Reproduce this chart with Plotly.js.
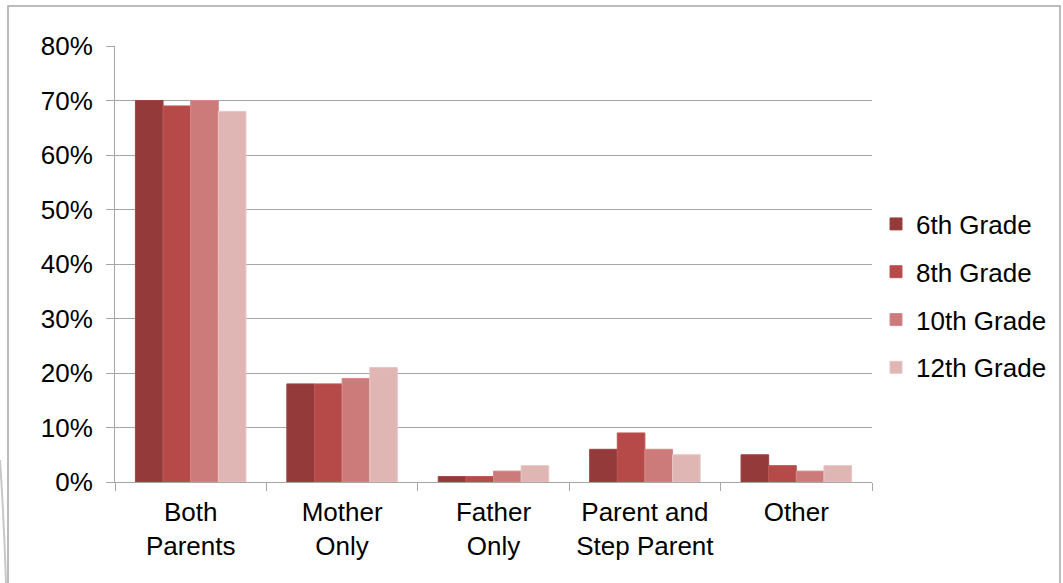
<!DOCTYPE html>
<html><head><meta charset="utf-8">
<script src="https://cdn.plot.ly/plotly-3.0.1.min.js"></script>
<style>html,body{margin:0;padding:0;background:#fff}#chart{width:1063px;height:583px}</style>
</head><body><div id="chart"></div>
<script>
const categories = ["Both<br>Parents", "Mother<br>Only", "Father<br>Only", "Parent and<br>Step Parent", "Other"];
const seriesNames = ["6th Grade", "8th Grade", "10th Grade", "12th Grade"];
const grade6 = [70, 18, 1, 6, 5];
const grade8 = [69, 18, 1, 9, 3];
const grade10 = [70, 19, 2, 6, 2];
const grade12 = [68, 21, 3, 5, 3];
const colors = ["#953A3A", "#B64A48", "#CD7B7A", "#E0B6B5"];
const lineColors = ["#9E4444", "#BD5856", "#D58B8A", "#E8C6C5"];
const seriesValues = [grade6, grade8, grade10, grade12];

const traces = seriesValues.map((vals, i) => ({
  type: "bar",
  name: seriesNames[i],
  x: categories,
  y: vals.map(v => v / 100),
  marker: {color: colors[i], line: {color: lineColors[i], width: 1}},
  legendgroup: "g" + i,
  hoverinfo: "x+y+name"
}));

// plot area in pixels: x 115..872, y 46..482
const px = p => (p - 115) / 757;
const py = p => (482 - p) / 436;

const layout = {
  width: 1063, height: 583,
  margin: {l: 115, r: 191, t: 46, b: 101, autoexpand: false},
  paper_bgcolor: "#fff", plot_bgcolor: "#fff",
  font: {family: "Liberation Sans, Arial, sans-serif", color: "#000", size: 26},
  bargap: 0.27, bargroupgap: 0,
  showlegend: true,
  legend: {x: px(876), xanchor: "left", y: py(296), yanchor: "middle",
           font: {size: 26}, traceorder: "grouped", tracegroupgap: 11,
           itemwidth: 30},
  xaxis: {type: "category", showline: true, linecolor: "#A6A6A6", linewidth: 1,
          ticks: "outside", tickson: "boundaries", ticklen: 8, tickcolor: "#A6A6A6",
          tickfont: {size: 26}, showgrid: false, zeroline: false, ticklabelstandoff: 7},
  yaxis: {range: [0, 0.8], tickvals: [0, 0.1, 0.2, 0.3, 0.4, 0.5, 0.6, 0.7, 0.8],
          tickformat: ".0%", showgrid: true, gridcolor: "#A6A6A6", gridwidth: 1,
          showline: true, linecolor: "#A6A6A6", ticks: "outside", ticklen: 8,
          tickcolor: "#A6A6A6", tickfont: {size: 26}, zeroline: false, ticklabelstandoff: 8},
  shapes: [
    {type: "rect", xref: "paper", yref: "paper", x0: px(8), x1: px(1060), y0: py(620), y1: py(6),
     line: {color: "#A6A6A6", width: 1.5}, fillcolor: "rgba(0,0,0,0)", layer: "below"},
    {type: "path", xref: "paper", yref: "paper",
     path: `M ${px(0)} ${py(460)} Q ${px(4)} ${py(520)} ${px(6)} ${py(583)}`,
     line: {color: "#C8C8C8", width: 2}, layer: "below"}
  ]
};
Plotly.newPlot("chart", traces, layout, {displayModeBar: false, staticPlot: true});
</script></body></html>
